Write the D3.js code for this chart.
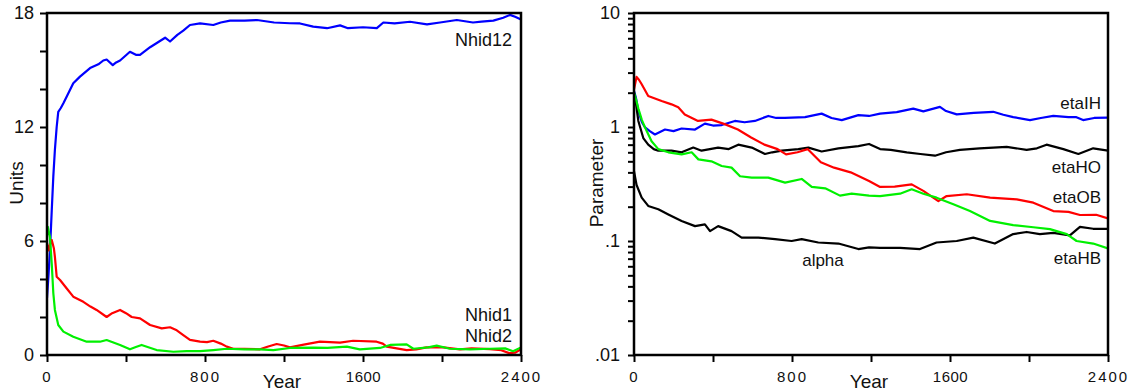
<html>
<head>
<script src="https://d3js.org/d3.v7.min.js"></script>
<style>
  body { margin: 0; background: #fff; }
  svg text { font-family: "Liberation Sans", Arial, sans-serif; fill: #111; }
  .axis .domain { display: none; }
  .axis line { stroke: #000; stroke-width: 2; }
</style>
</head>
<body>
<svg id="chart" width="1138" height="391"></svg>
<script>
// values as [year, value]
const nhid12 = [[0,3.0],[7,4.1],[15,5.5],[24,7.6],[32,9.4],[40,10.8],[49,12.0],[57,12.8],[70,13.0],[83,13.25],[100,13.6],[133,14.3],[167,14.65],[218,15.1],[260,15.3],[285,15.5],[302,15.55],[333,15.26],[350,15.4],[370,15.5],[420,15.96],[450,15.8],[471,15.8],[522,16.2],[560,16.45],[598,16.7],[623,16.5],[660,16.85],[690,17.07],[724,17.37],[775,17.45],[842,17.37],[880,17.5],[927,17.6],[1000,17.6],[1063,17.63],[1150,17.5],[1230,17.46],[1281,17.45],[1348,17.28],[1418,17.2],[1484,17.35],[1524,17.2],[1600,17.25],[1670,17.2],[1703,17.5],[1760,17.45],[1838,17.54],[1924,17.4],[1990,17.5],[2075,17.63],[2157,17.5],[2200,17.55],[2260,17.6],[2310,17.75],[2344,17.9],[2370,17.8],[2400,17.66]];
const nhid1 = [[0,5.9],[8,5.5],[15,5.8],[24,6.05],[35,5.6],[40,5.17],[49,4.12],[66,3.95],[100,3.5],[133,3.07],[184,2.8],[220,2.55],[251,2.37],[302,2.0],[330,2.2],[370,2.37],[400,2.2],[429,2.0],[471,1.93],[522,1.58],[581,1.4],[623,1.46],[657,1.3],[690,1.05],[724,0.8],[775,0.7],[810,0.68],[842,0.75],[880,0.6],[910,0.44],[943,0.33],[1000,0.32],[1078,0.3],[1120,0.45],[1163,0.58],[1200,0.5],[1230,0.4],[1300,0.55],[1382,0.7],[1484,0.65],[1550,0.75],[1669,0.7],[1700,0.6],[1720,0.44],[1821,0.26],[1870,0.3],[1922,0.4],[2006,0.4],[2091,0.3],[2150,0.35],[2243,0.31],[2300,0.25],[2340,0.1],[2370,0.12],[2400,0.3]];
const nhid2 = [[0,6.3],[4,6.75],[15,6.2],[24,4.8],[32,3.25],[40,2.37],[57,1.58],[83,1.23],[133,0.96],[201,0.7],[268,0.7],[302,0.79],[370,0.53],[420,0.3],[450,0.42],[479,0.53],[555,0.26],[640,0.17],[707,0.2],[775,0.2],[842,0.26],[910,0.33],[1000,0.3],[1078,0.3],[1146,0.26],[1230,0.37],[1348,0.39],[1420,0.38],[1518,0.44],[1584,0.3],[1686,0.37],[1737,0.53],[1821,0.56],[1855,0.33],[1930,0.4],[1973,0.49],[2040,0.33],[2142,0.3],[2243,0.33],[2320,0.35],[2360,0.2],[2400,0.4]];

const etaIH = [[0,2.07],[10,1.8],[22,1.38],[40,1.1],[56,0.99],[80,0.92],[106,0.86],[157,0.95],[200,0.92],[241,0.97],[309,0.95],[359,1.07],[400,1.03],[444,1.04],[511,1.13],[560,1.1],[612,1.13],[680,1.25],[720,1.2],[764,1.2],[866,1.22],[950,1.31],[1000,1.2],[1052,1.15],[1136,1.27],[1190,1.25],[1246,1.31],[1330,1.35],[1414,1.45],[1465,1.37],[1549,1.5],[1580,1.38],[1634,1.29],[1720,1.33],[1819,1.36],[1870,1.28],[1920,1.22],[2005,1.15],[2060,1.2],[2123,1.25],[2200,1.22],[2240,1.22],[2274,1.15],[2330,1.2],[2400,1.21]];
const etaHO = [[0,2.0],[10,1.6],[22,1.13],[47,0.8],[72,0.7],[100,0.64],[123,0.62],[190,0.62],[241,0.6],[300,0.66],[342,0.62],[426,0.66],[480,0.64],[528,0.7],[596,0.66],[663,0.58],[700,0.6],[748,0.62],[832,0.64],[883,0.66],[950,0.61],[1035,0.65],[1136,0.68],[1190,0.71],[1246,0.64],[1300,0.63],[1381,0.6],[1450,0.58],[1524,0.56],[1580,0.6],[1650,0.63],[1750,0.65],[1887,0.67],[1988,0.63],[2040,0.65],[2089,0.7],[2174,0.64],[2250,0.58],[2325,0.65],[2400,0.62]];
const etaOB = [[0,2.14],[13,2.75],[25,2.6],[39,2.37],[72,1.87],[140,1.69],[190,1.58],[224,1.49],[257,1.29],[324,1.13],[392,1.16],[459,1.06],[526,0.95],[593,0.81],[660,0.7],[727,0.64],[770,0.575],[828,0.6],[879,0.64],[946,0.49],[1013,0.44],[1097,0.4],[1190,0.336],[1246,0.298],[1320,0.3],[1406,0.314],[1465,0.275],[1541,0.224],[1583,0.248],[1685,0.257],[1803,0.24],[1938,0.232],[2022,0.217],[2123,0.183],[2200,0.18],[2258,0.169],[2340,0.17],[2400,0.158]];
const etaHB = [[0,2.0],[10,1.75],[22,1.45],[40,1.15],[56,0.99],[89,0.75],[123,0.64],[174,0.6],[241,0.575],[292,0.6],[326,0.52],[392,0.5],[444,0.455],[494,0.44],[537,0.37],[596,0.36],[680,0.36],[765,0.325],[849,0.35],[900,0.298],[968,0.29],[1043,0.25],[1102,0.26],[1190,0.25],[1246,0.248],[1347,0.26],[1406,0.284],[1465,0.26],[1532,0.24],[1617,0.21],[1701,0.183],[1803,0.15],[1920,0.138],[2022,0.132],[2106,0.127],[2191,0.115],[2241,0.1],[2325,0.095],[2400,0.086]];
const alpha = [[0,0.41],[13,0.31],[39,0.24],[72,0.203],[123,0.19],[174,0.171],[241,0.15],[309,0.135],[359,0.14],[385,0.122],[426,0.135],[494,0.122],[545,0.107],[630,0.107],[714,0.104],[798,0.1],[849,0.104],[933,0.097],[1035,0.095],[1136,0.085],[1190,0.088],[1246,0.087],[1347,0.087],[1448,0.085],[1532,0.097],[1634,0.1],[1718,0.107],[1827,0.095],[1920,0.115],[1988,0.12],[2055,0.115],[2123,0.118],[2207,0.112],[2258,0.133],[2325,0.128],[2400,0.128]];

const xTicks = [0, 400, 800, 1200, 1600, 2000, 2400];
const xLabels = {0: "0", 800: "800", 1600: "1600", 2400: "2400"};
const unitTicks = [0, 2, 4, 6, 8, 10, 12, 14, 16, 18];
const unitLabels = {0: "0", 6: "6", 12: "12", 18: "18"};
const paramLabels = {10: "10", 1: "1", 0.1: ".1", 0.01: ".01"};

const svg = d3.select("#chart");
const plotTop = 13, plotBottom = 355;

function frame(g, x0, x1) {
    g.append("rect")
        .attr("x", x0).attr("y", plotTop)
        .attr("width", x1 - x0).attr("height", plotBottom - plotTop)
        .attr("fill", "none").attr("stroke", "#000").attr("stroke-width", 2.5);
}

function xAxis(g, xScale) {
    g.append("g").attr("class", "axis")
        .attr("transform", `translate(0,${plotBottom})`)
        .call(d3.axisBottom(xScale).tickValues(xTicks).tickSize(7).tickSizeOuter(0).tickFormat(d => xLabels[d] || ""))
        .call(a => a.selectAll("text")
            .attr("dy", 0).attr("y", 27)
            .style("font-size", "15px")
            .style("letter-spacing", d => d == 1600 ? "0.5px" : "2px"));
}

// ---- left chart
const xL = d3.scaleLinear().domain([0, 2400]).range([47, 521]);
const yL = d3.scaleLinear().domain([0, 18]).range([plotBottom, plotTop]);
const left = svg.append("g");
left.append("clipPath").attr("id", "clipL").append("rect")
    .attr("x", 47).attr("y", plotTop).attr("width", 474).attr("height", plotBottom - plotTop);

const lineL = d3.line().x(d => xL(d[0])).y(d => yL(d[1]));
[[nhid12, "#0000ff"], [nhid1, "#ff0000"], [nhid2, "#00f000"]].forEach(([s, c]) => {
    left.append("path").datum(s)
        .attr("clip-path", "url(#clipL)")
        .attr("fill", "none").attr("stroke", c).attr("stroke-width", 2.2)
        .attr("stroke-linejoin", "round")
        .attr("d", lineL);
});

left.append("g").attr("class", "axis")
    .attr("transform", "translate(47,0)")
    .call(d3.axisLeft(yL).tickValues(unitTicks).tickSize(7).tickSizeOuter(0).tickFormat(d => unitLabels[d] || ""))
    .call(a => a.selectAll("text").attr("x", -13).style("font-size", "18px"));
xAxis(left, xL);
frame(left, 47, 521);

left.append("text").attr("transform", "translate(23,183) rotate(-90)")
    .attr("text-anchor", "middle").style("font-size", "19px").text("Units");
left.append("text").attr("x", 282).attr("y", 388)
    .attr("text-anchor", "middle").style("font-size", "19px").text("Year");

[["Nhid12", 46], ["Nhid1", 321], ["Nhid2", 342]].forEach(([t, y]) => {
    left.append("text").attr("x", 512).attr("y", y)
        .attr("text-anchor", "end").style("font-size", "18px").text(t);
});

// ---- right chart
const xR = d3.scaleLinear().domain([0, 2400]).range([634, 1108]);
const yR = d3.scaleLog().domain([0.01, 10]).range([plotBottom, plotTop]);
const right = svg.append("g");
right.append("clipPath").attr("id", "clipR").append("rect")
    .attr("x", 634).attr("y", plotTop).attr("width", 474).attr("height", plotBottom - plotTop);

const lineR = d3.line().x(d => xR(d[0])).y(d => yR(d[1]));
[[etaIH, "#0000ff"], [etaHO, "#000000"], [alpha, "#000000"], [etaOB, "#ff0000"], [etaHB, "#00f000"]].forEach(([s, c]) => {
    right.append("path").datum(s)
        .attr("clip-path", "url(#clipR)")
        .attr("fill", "none").attr("stroke", c).attr("stroke-width", 2.2)
        .attr("stroke-linejoin", "round")
        .attr("d", lineR);
});

const logTicks = [];
[0.01, 0.1, 1].forEach(p => { for (let k = 1; k < 10; k++) logTicks.push(+(p * k).toPrecision(3)); });
logTicks.push(10);
right.append("g").attr("class", "axis")
    .attr("transform", "translate(634,0)")
    .call(d3.axisLeft(yR).tickValues(logTicks).tickSize(6).tickSizeOuter(0).tickFormat(d => paramLabels[d] || ""))
    .call(a => a.selectAll("text").attr("x", -14).style("font-size", "18px"));
xAxis(right, xR);
frame(right, 634, 1108);

right.append("text").attr("transform", "translate(603,183) rotate(-90)")
    .attr("text-anchor", "middle").style("font-size", "19px").text("Parameter");
right.append("text").attr("x", 869).attr("y", 388)
    .attr("text-anchor", "middle").style("font-size", "19px").text("Year");

[["etaIH", 109], ["etaHO", 173], ["etaOB", 203], ["etaHB", 264]].forEach(([t, y]) => {
    right.append("text").attr("x", 1101).attr("y", y)
        .attr("text-anchor", "end").style("font-size", "17px").text(t);
});
right.append("text").attr("x", 823).attr("y", 266)
    .attr("text-anchor", "middle").style("font-size", "17px").text("alpha");
</script>
</body>
</html>
